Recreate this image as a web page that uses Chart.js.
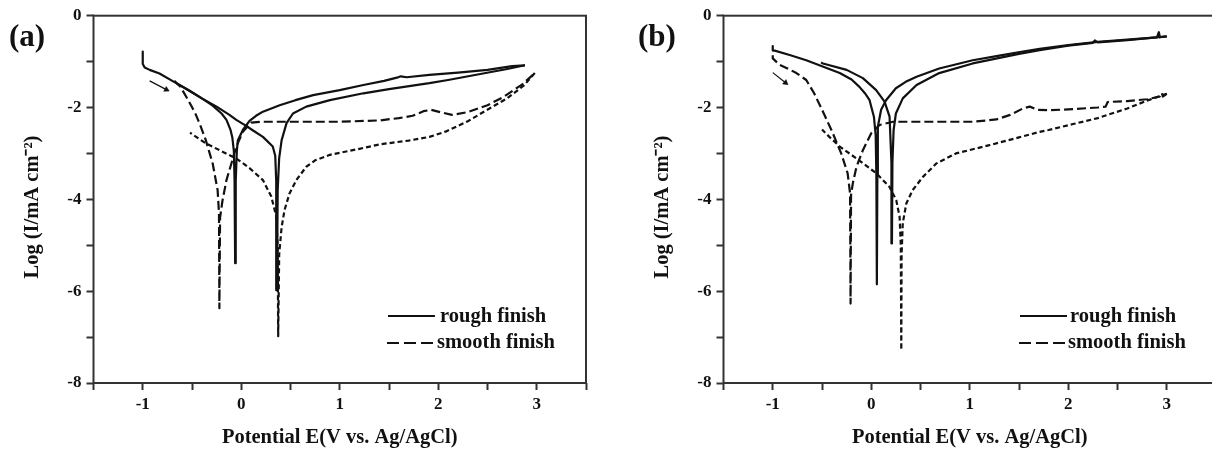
<!DOCTYPE html>
<html><head><meta charset="utf-8">
<script src="https://cdn.jsdelivr.net/npm/chart.js@4.4.1/dist/chart.umd.min.js"></script>
<style>
html,body{margin:0;padding:0;background:#fff;overflow:hidden;width:1212px;height:451px;}
#wrap{position:relative;width:1212px;height:451px;overflow:hidden;background:#fff;}
canvas{position:absolute;top:0;}
.lbl{position:absolute;font:bold 31px "Liberation Serif",serif;line-height:31px;color:#111;white-space:nowrap;}
.lg{position:absolute;font:bold 20.5px "Liberation Serif",serif;line-height:20px;color:#111;white-space:nowrap;}
.ls{position:absolute;height:2px;background:#111;width:47px;}
.ld{position:absolute;height:2px;width:46px;background:repeating-linear-gradient(to right,#111 0 12px,transparent 12px 17px);}
</style></head>
<body><div id="wrap">
<canvas id="ca" width="600" height="451" style="left:0"></canvas>
<canvas id="cb" width="630" height="451" style="left:600px"></canvas>
<div class="lbl" style="left:9px;top:20px">(a)</div>
<div class="lbl" style="left:638px;top:20px">(b)</div>
<div class="ls" style="left:388px;top:315px"></div><div class="lg" style="left:440px;top:305px">rough finish</div>
<div class="ld" style="left:387px;top:342px"></div><div class="lg" style="left:437px;top:331px">smooth finish</div>
<div class="ls" style="left:1020px;top:315px"></div><div class="lg" style="left:1070px;top:305px">rough finish</div>
<div class="ld" style="left:1019px;top:342px"></div><div class="lg" style="left:1068px;top:331px">smooth finish</div>
</div>
<script>
// ---- tick labels ----
const xTickLabels = ['-1','0','1','2','3'];
const yTickLabels = ['0','-2','-4','-6','-8'];
const xTitle = 'Potential E(V vs. Ag/AgCl)';
const yTitle = 'Log (I/mA cm\u207B\u00B2)';

// ---- panel (a): [E (V), log I] ----
const aRoughFwd = [[-1.00,-0.78],[-1.00,-1.05],[-0.98,-1.13],[-0.93,-1.18],[-0.83,-1.26],[-0.70,-1.42],[-0.53,-1.63],[-0.40,-1.80],[-0.29,-1.96],[-0.20,-2.13],[-0.15,-2.27],[-0.11,-2.48],[-0.09,-2.66],[-0.075,-2.95],[-0.068,-3.6],[-0.062,-5.39],[-0.056,-3.6],[-0.045,-2.95],[-0.035,-2.72],[0.016,-2.49],[0.084,-2.29],[0.15,-2.18],[0.22,-2.09],[0.39,-1.95],[0.55,-1.84],[0.73,-1.73],[1.0,-1.62],[1.24,-1.51],[1.45,-1.42],[1.58,-1.35],[1.62,-1.32],[1.68,-1.34],[1.91,-1.29],[2.2,-1.24],[2.5,-1.18],[2.75,-1.10],[2.88,-1.08]];
const aRoughRev = [[2.88,-1.08],[2.7,-1.16],[2.4,-1.28],[2.1,-1.40],[1.91,-1.47],[1.5,-1.60],[1.24,-1.69],[0.90,-1.84],[0.66,-1.98],[0.525,-2.13],[0.46,-2.34],[0.41,-2.71],[0.385,-3.1],[0.37,-3.8],[0.362,-5.98],[0.355,-3.6],[0.345,-3.05],[0.32,-2.85],[0.22,-2.64],[0.12,-2.50],[0.05,-2.40],[-0.05,-2.27],[-0.12,-2.16],[-0.25,-1.98],[-0.40,-1.80],[-0.53,-1.63],[-0.65,-1.48]];
const aSmoothFwd = [[-0.68,-1.42],[-0.62,-1.54],[-0.56,-1.76],[-0.51,-1.95],[-0.46,-2.16],[-0.41,-2.42],[-0.36,-2.71],[-0.29,-3.22],[-0.24,-3.80],[-0.226,-4.3],[-0.222,-6.37],[-0.215,-4.4],[-0.19,-4.02],[-0.15,-3.58],[-0.10,-3.22],[-0.05,-2.85],[0.016,-2.53],[0.10,-2.33],[0.2,-2.31],[0.6,-2.31],[1.0,-2.31],[1.41,-2.28],[1.6,-2.23],[1.74,-2.18],[1.85,-2.08],[1.93,-2.05],[2.02,-2.10],[2.14,-2.16],[2.3,-2.10],[2.5,-1.95],[2.67,-1.76],[2.85,-1.50],[2.98,-1.25]];
const aSmoothRev = [[2.98,-1.25],[2.87,-1.52],[2.7,-1.80],[2.48,-2.07],[2.3,-2.30],[2.08,-2.52],[1.91,-2.64],[1.7,-2.72],[1.41,-2.80],[1.2,-2.90],[0.90,-3.03],[0.75,-3.15],[0.66,-3.29],[0.56,-3.58],[0.49,-3.87],[0.44,-4.23],[0.41,-4.6],[0.385,-5.2],[0.375,-6.98],[0.37,-5.0],[0.356,-4.38],[0.305,-3.94],[0.22,-3.58],[0.084,-3.32],[-0.05,-3.11],[-0.22,-2.93],[-0.36,-2.78],[-0.52,-2.55]];
const aArrow = [[-0.93,-1.42],[-0.76,-1.61]];

// ---- panel (b) ----
const bRoughFwd = [[-1.0,-0.66],[-1.0,-0.76],[-0.98,-0.76],[-0.82,-0.86],[-0.66,-0.97],[-0.5,-1.10],[-0.32,-1.25],[-0.2,-1.39],[-0.12,-1.55],[-0.06,-1.70],[-0.017,-1.84],[0.027,-2.2],[0.045,-2.6],[0.052,-3.5],[0.057,-5.85],[0.062,-3.5],[0.067,-2.42],[0.10,-2.05],[0.15,-1.84],[0.25,-1.58],[0.35,-1.44],[0.46,-1.33],[0.69,-1.15],[1.03,-0.97],[1.3,-0.87],[1.54,-0.78],[1.71,-0.72],[2.0,-0.64],[2.3,-0.57],[2.6,-0.52],[2.9,-0.47],[2.92,-0.36],[2.93,-0.47],[3.0,-0.45]];
const bRoughRev = [[3.0,-0.45],[2.6,-0.53],[2.3,-0.58],[2.27,-0.54],[2.25,-0.59],[2.0,-0.65],[1.71,-0.75],[1.5,-0.83],[1.03,-1.04],[0.69,-1.25],[0.46,-1.51],[0.32,-1.80],[0.25,-2.13],[0.227,-2.49],[0.215,-3.2],[0.21,-4.96],[0.205,-3.2],[0.186,-2.2],[0.135,-1.87],[0.05,-1.62],[-0.085,-1.36],[-0.25,-1.18],[-0.49,-1.04],[-0.51,-1.02]];
const bSmoothFwd = [[-1.0,-0.86],[-1.0,-0.93],[-0.93,-1.07],[-0.85,-1.15],[-0.76,-1.25],[-0.66,-1.40],[-0.58,-1.69],[-0.49,-2.09],[-0.39,-2.56],[-0.305,-3.0],[-0.24,-3.43],[-0.215,-3.87],[-0.21,-6.27],[-0.205,-3.9],[-0.187,-3.65],[-0.15,-3.29],[-0.085,-2.93],[0.0,-2.56],[0.084,-2.38],[0.22,-2.31],[0.6,-2.31],[1.03,-2.31],[1.27,-2.26],[1.41,-2.16],[1.54,-2.02],[1.61,-1.98],[1.69,-2.05],[1.8,-2.06],[2.0,-2.04],[2.3,-2.00],[2.38,-1.98],[2.4,-1.88],[2.6,-1.86],[2.8,-1.82],[2.93,-1.76],[2.95,-1.68],[2.96,-1.76],[3.0,-1.70]];
const bSmoothRev = [[3.0,-1.70],[2.8,-1.85],[2.6,-2.02],[2.3,-2.23],[2.05,-2.36],[1.80,-2.49],[1.71,-2.53],[1.5,-2.65],[1.20,-2.82],[0.86,-3.0],[0.66,-3.22],[0.525,-3.51],[0.42,-3.80],[0.356,-4.09],[0.32,-4.52],[0.308,-5.2],[0.305,-7.28],[0.30,-5.0],[0.288,-4.38],[0.254,-4.02],[0.186,-3.73],[0.05,-3.43],[-0.15,-3.11],[-0.32,-2.85],[-0.42,-2.65],[-0.5,-2.48]];
const bArrow = [[-1.0,-1.24],[-0.87,-1.46]];

const INK = '#111';
Chart.defaults.font.family = '"Liberation Serif", serif';

function line(data, dash) {
  return {
    data: data.map(([x, y]) => ({x, y})),
    showLine: true, borderColor: INK, borderWidth: 2.2, borderDash: dash,
    pointRadius: 0, tension: 0, borderJoinStyle: 'round', fill: false
  };
}
function arrow(data) {
  return {
    data: data.map(([x, y]) => ({x, y})),
    showLine: true, borderColor: INK, borderWidth: 1.2, backgroundColor: INK,
    pointRadius: c => c.dataIndex === 1 ? 3.2 : 0,
    pointStyle: 'triangle',
    pointBackgroundColor: INK, pointBorderColor: INK, pointBorderWidth: 0.5,
    pointRotation: c => {
      const ch = c.chart, xs = ch.scales.x, ys = ch.scales.y, d = c.dataset.data;
      const dx = xs.getPixelForValue(d[1].x) - xs.getPixelForValue(d[0].x);
      const dy = ys.getPixelForValue(d[1].y) - ys.getPixelForValue(d[0].y);
      return Math.atan2(dy, dx) * 180 / Math.PI + 90;
    }
  };
}
const framePlugin = {
  id: 'frame',
  afterDraw(chart) {
    const {ctx, chartArea: a} = chart;
    ctx.save(); ctx.strokeStyle = '#333'; ctx.lineWidth = 2;
    ctx.strokeRect(a.left, a.top, a.right - a.left, a.bottom - a.top);
    ctx.restore();
  }
};
const tickFont = {weight: 'bold', size: 17};
const titleFont = {weight: 'bold', size: 20.5};
const gridOpt = {drawOnChartArea: false, drawTicks: true, tickLength: 7, tickWidth: 2, tickColor: '#333'};

function make(id, padLeft, sets) {
  return new Chart(document.getElementById(id), {
    type: 'scatter',
    data: {datasets: sets},
    plugins: [framePlugin],
    options: {
      responsive: false, animation: false, events: [],
      layout: {padding: {left: padLeft, top: 15.7, right: 14, bottom: 0}},
      plugins: {legend: {display: false}, tooltip: {enabled: false}},
      scales: {
        x: {
          type: 'linear', min: -1.5, max: 3.5,
          afterFit: s => { s.height = 68; },
          border: {display: false}, grid: gridOpt,
          ticks: {stepSize: 0.5, autoSkip: false, maxRotation: 0, padding: 4.5, color: INK, font: tickFont,
            callback: v => { const s = String(v); return xTickLabels.includes(s) ? s : ''; }},
          title: {display: true, text: xTitle, color: INK, font: titleFont, padding: {top: 0, bottom: 1}}
        },
        y: {
          type: 'linear', min: -8, max: 0,
          afterFit: s => { s.width = 93.5; },
          border: {display: false}, grid: gridOpt,
          ticks: {stepSize: 1, autoSkip: false, padding: 5, color: INK, font: tickFont,
            callback: v => { const s = String(v); return yTickLabels.includes(s) ? s : ''; }},
          title: {display: true, text: yTitle + '\u00A0\u00A0\u00A0', color: INK, font: titleFont, padding: {top: 20, bottom: 0}}
        }
      }
    }
  });
}
make('ca', 0, [line(aRoughFwd, []), line(aRoughRev, []), line(aSmoothFwd, [9, 4]), line(aSmoothRev, [5, 3]), arrow(aArrow)]);
make('cb', 30, [line(bRoughFwd, []), line(bRoughRev, []), line(bSmoothFwd, [9, 4]), line(bSmoothRev, [5, 3]), arrow(bArrow)]);
</script>
</body></html>
